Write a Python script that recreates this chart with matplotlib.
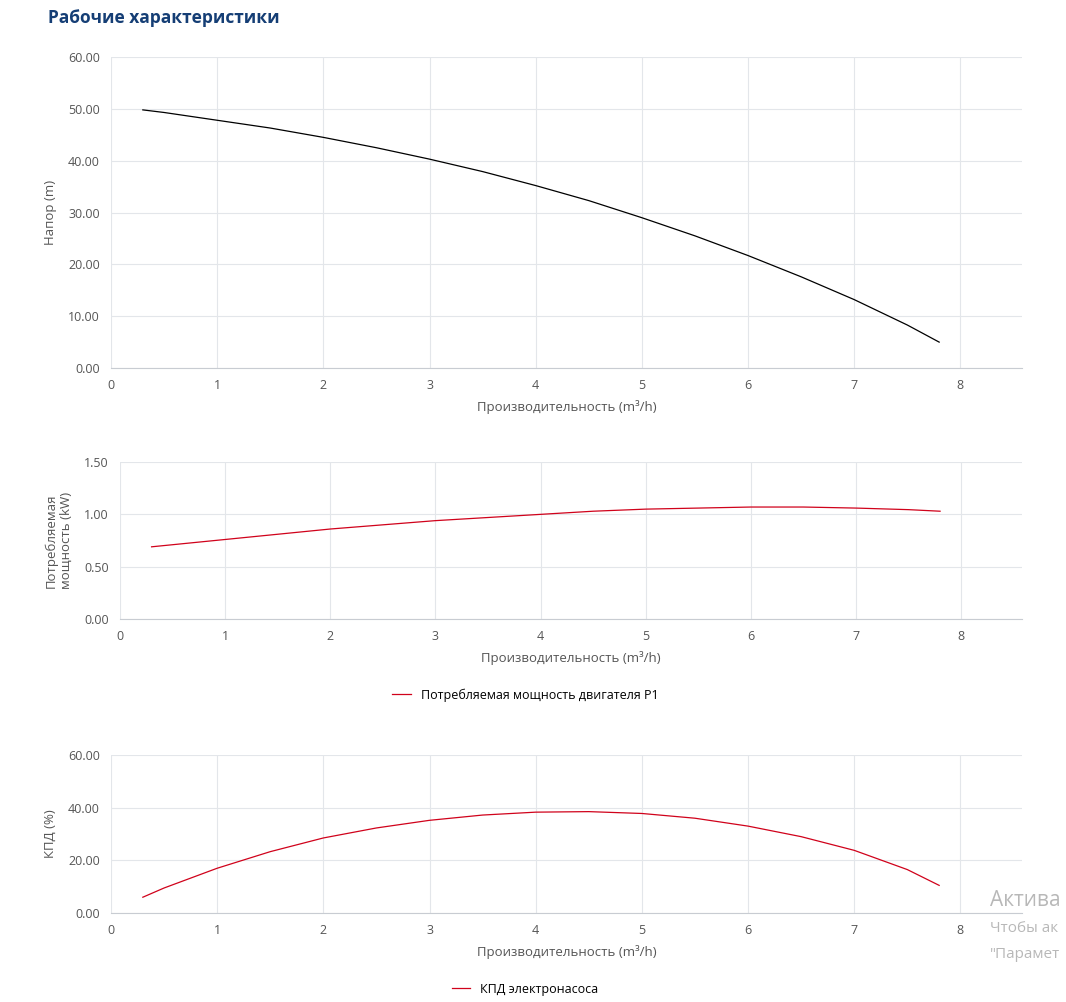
import matplotlib
matplotlib.use("Agg")
import matplotlib.pyplot as plt

plt.rcParams['font.family'] = ['Open Sans', 'DejaVu Sans']

flow = [0.3, 0.5, 1, 1.5, 2, 2.5, 3, 3.5, 4, 4.5, 5, 5.5, 6, 6.5, 7, 7.5, 7.8]
head = [49.8, 49.3, 47.8, 46.3, 44.5, 42.5, 40.3, 37.9, 35.2, 32.3, 29.0, 25.5, 21.7, 17.6, 13.2, 8.3, 5.0]
power = [0.69, 0.71, 0.76, 0.81, 0.86, 0.90, 0.94, 0.97, 1.00, 1.03, 1.05, 1.06, 1.07, 1.07, 1.06, 1.045, 1.03]
eff = [6, 9.5, 17, 23.3, 28.5, 32.3, 35.2, 37.2, 38.3, 38.5, 37.8, 36, 33, 29, 23.8, 16.5, 10.5]

xticks = list(range(9))
xlabel = 'Производительность (m³/h)'
tick_c = '#555555'
grid_c = '#e3e6ea'

fig = plt.figure(figsize=(10.66, 10.02), dpi=100)
fig.text(48/1066, 1 - 18/1002, 'Рабочие характеристики', fontsize=12.5, fontweight='bold',
         color='#153e75', va='center')


def style(ax, yticks, fmt, ylabel):
    ax.set_xlim(0, 8.58)
    ax.set_xticks(xticks)
    ax.set_ylim(yticks[0], yticks[-1])
    ax.set_yticks(yticks)
    ax.set_yticklabels([fmt % v for v in yticks])
    ax.grid(True, color=grid_c, linewidth=0.8)
    ax.set_axisbelow(True)
    for s in ['top', 'right', 'left']:
        ax.spines[s].set_visible(False)
    ax.spines['bottom'].set_color('#c8ccd2')
    ax.tick_params(length=0, labelsize=9, colors=tick_c, pad=8)
    ax.set_xlabel(xlabel, fontsize=9.5, color=tick_c, labelpad=6)
    ax.set_ylabel(ylabel, fontsize=9.5, color=tick_c, labelpad=8)


ax1 = fig.add_axes([0.1041, 0.6327, 0.8546, 0.3104])
ax1.plot(flow, head, color='black', linewidth=0.9)
style(ax1, [0, 10, 20, 30, 40, 50, 60], '%.2f', 'Напор (m)')

ax2 = fig.add_axes([0.1126, 0.3822, 0.8462, 0.1567])
l2, = ax2.plot(flow, power, color='#d0021b', linewidth=0.9)
style(ax2, [0, 0.5, 1.0, 1.5], '%.2f', 'Потребляемая\nмощность (kW)')
fig.legend([l2], ['Потребляемая мощность двигателя P1'], loc='center',
           bbox_to_anchor=(525/1066, 1 - 695/1002), frameon=False, fontsize=9,
           handlelength=1.5)

ax3 = fig.add_axes([0.1041, 0.0888, 0.8546, 0.1577])
l3, = ax3.plot(flow, eff, color='#d0021b', linewidth=0.9)
style(ax3, [0, 20, 40, 60], '%.2f', 'КПД (%)')
fig.legend([l3], ['КПД электронасоса'], loc='center',
           bbox_to_anchor=(525/1066, 1 - 989/1002), frameon=False, fontsize=9,
           handlelength=1.5)

fig.text(990/1066, 1 - 900/1002, 'Актива', fontsize=15, color='#b8b8b8', va='center')
fig.text(990/1066, 1 - 928/1002, 'Чтобы ак', fontsize=11, color='#b8b8b8', va='center')
fig.text(990/1066, 1 - 954/1002, '"Парамет', fontsize=11, color='#b8b8b8', va='center')

fig.savefig('out.png', dpi=100)
